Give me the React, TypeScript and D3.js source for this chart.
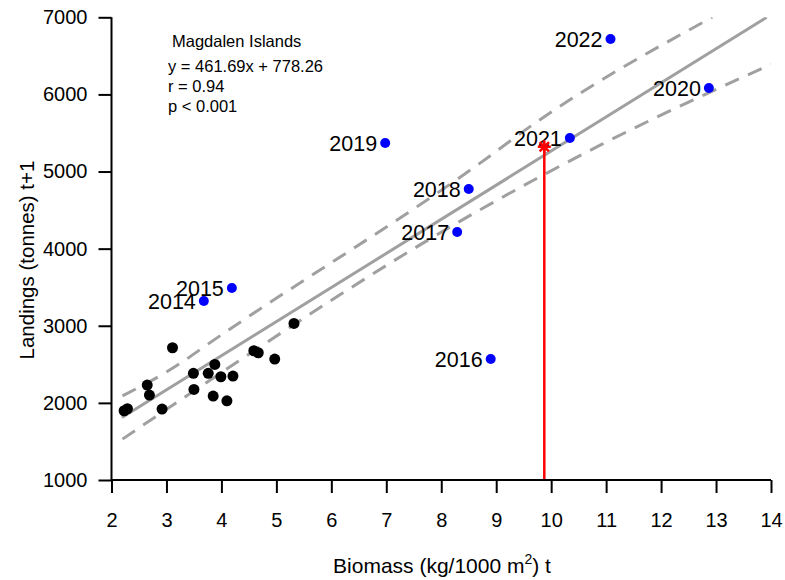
import React, { useEffect, useRef } from "react";
import * as d3 from "d3";

// black points (earlier years, unlabelled)
const histBiomass = [2.23, 2.29, 2.92, 2.69, 2.65, 3.11, 3.5, 3.49, 3.76, 3.88, 3.99, 4.21, 3.85, 4.1, 4.59, 4.67, 4.97, 5.32];
const histLandings = [1898, 1924, 1920, 2101, 2231, 2715, 2175, 2383, 2383, 2499, 2339, 2348, 2089, 2027, 2676, 2650, 2568, 3031];

// blue labelled points
const years = ["2014", "2015", "2016", "2017", "2018", "2019", "2020", "2021", "2022"];
const recentBiomass = [3.68, 4.19, 8.9, 8.29, 8.5, 6.98, 12.87, 10.34, 11.08];
const recentLandings = [3320, 3489, 2568, 4215, 4773, 5370, 6083, 5434, 6719];

// regression line and dashed bands
const fitX = [2.19, 13.92];
const fitY = [1810, 7000];
const upperX = [2.2, 3.25, 3.73, 8.7, 9.7, 12.93];
const upperY = [2090, 2512, 2750, 5106, 5625, 7000];
const lowerX = [2.2, 3.25, 8.7, 10.9, 14];
const lowerY = [1530, 2036, 4502, 5345, 6390];

// projection for next year
const projBiomass = 9.875;
const projLandings = 5322;

const xTicks = [2, 3, 4, 5, 6, 7, 8, 9, 10, 11, 12, 13, 14];
const yTicks = [1000, 2000, 3000, 4000, 5000, 6000, 7000];

const infoLines = ["y = 461.69x + 778.26", "r = 0.94", "p < 0.001"];

const App = () => {
  const ref = useRef<SVGSVGElement>(null);

  useEffect(() => {
    const svg = d3.select(ref.current);
    svg.selectAll("*").remove();
    const width = 785;
    const height = 580;
    const font = "Liberation Sans, Arial, sans-serif";

    const x = d3.scaleLinear().domain([2, 14]).range([111.5, 771]);
    const y = d3.scaleLinear().domain([1000, 7000]).range([480, 17.3]);

    svg.attr("width", width).attr("height", height).attr("font-family", font);

    svg
      .append("defs")
      .append("clipPath")
      .attr("id", "plot-clip")
      .append("rect")
      .attr("x", x(2))
      .attr("y", y(7000))
      .attr("width", x(14) - x(2))
      .attr("height", y(1000) - y(7000));

    const lines = svg.append("g").attr("clip-path", "url(#plot-clip)");
    const line = d3
      .line<[number, number]>()
      .x((d) => x(d[0]))
      .y((d) => y(d[1]))
      .curve(d3.curveMonotoneX);

    lines
      .append("path")
      .attr("d", line(fitX.map((v, i) => [v, fitY[i]])))
      .attr("fill", "none")
      .attr("stroke", "#a0a0a0")
      .attr("stroke-width", 3);

    [
      [upperX, upperY],
      [lowerX, lowerY],
    ].forEach(([xs, ys]) => {
      lines
        .append("path")
        .attr("d", line(xs.map((v, i) => [v, ys[i]])))
        .attr("fill", "none")
        .attr("stroke", "#a0a0a0")
        .attr("stroke-width", 3)
        .attr("stroke-dasharray", "15,10");
    });

    // black points
    svg
      .append("g")
      .selectAll("circle")
      .data(histBiomass)
      .join("circle")
      .attr("cx", (d) => x(d))
      .attr("cy", (d, i) => y(histLandings[i]))
      .attr("r", 5.5)
      .attr("fill", "black");

    // blue points + labels
    const recent = svg.append("g");
    recent
      .selectAll("circle")
      .data(recentBiomass)
      .join("circle")
      .attr("cx", (d) => x(d))
      .attr("cy", (d, i) => y(recentLandings[i]))
      .attr("r", 5)
      .attr("fill", "#0000ff");
    recent
      .selectAll("text")
      .data(years)
      .join("text")
      .attr("x", (d, i) => x(recentBiomass[i]) - 8)
      .attr("y", (d, i) => y(recentLandings[i]))
      .attr("dy", "0.36em")
      .attr("text-anchor", "end")
      .attr("font-size", 21.5)
      .text((d) => d);

    // projection
    svg
      .append("line")
      .attr("x1", x(projBiomass))
      .attr("x2", x(projBiomass))
      .attr("y1", y(1000))
      .attr("y2", y(projLandings))
      .attr("stroke", "#ff0000")
      .attr("stroke-width", 2.5);
    const s = 6.5;
    const px = x(projBiomass);
    const py = y(projLandings);
    svg
      .append("path")
      .attr(
        "d",
        `M${px - s},${py}H${px + s}M${px},${py - s}V${py + s}` +
          `M${px - s * 0.72},${py - s * 0.72}L${px + s * 0.72},${py + s * 0.72}` +
          `M${px - s * 0.72},${py + s * 0.72}L${px + s * 0.72},${py - s * 0.72}`
      )
      .attr("stroke", "#ff0000")
      .attr("stroke-width", 2.5);

    // axes
    svg
      .append("g")
      .attr("transform", `translate(0,${y(1000)})`)
      .call(d3.axisBottom(x).tickValues(xTicks).tickSize(13).tickPadding(20).tickFormat(d3.format("d")))
      .call((g) => g.select(".domain").attr("stroke-width", 2).attr("d", `M${x(2)},0H${x(14)}`))
      .call((g) => g.selectAll(".tick line").attr("stroke-width", 2))
      .call((g) => g.selectAll(".tick text").attr("font-size", 20).attr("font-family", font));

    svg
      .append("g")
      .attr("transform", `translate(${x(2)},0)`)
      .call(d3.axisLeft(y).tickValues(yTicks).tickSize(13).tickPadding(11).tickFormat(d3.format("d")))
      .call((g) => g.select(".domain").attr("stroke-width", 2).attr("d", `M0,${y(1000)}V${y(7000)}`))
      .call((g) => g.selectAll(".tick line").attr("stroke-width", 2))
      .call((g) => g.selectAll(".tick text").attr("font-size", 20).attr("font-family", font));

    // axis titles
    const xt = svg
      .append("text")
      .attr("x", 442)
      .attr("y", 573)
      .attr("text-anchor", "middle")
      .attr("font-size", 21);
    xt.append("tspan").text("Biomass (kg/1000 m");
    xt.append("tspan").attr("font-size", 14).attr("dy", -9).text("2");
    xt.append("tspan").attr("dy", 9).text(") t");

    svg
      .append("text")
      .attr("transform", `translate(34,260) rotate(-90)`)
      .attr("text-anchor", "middle")
      .attr("font-size", 20.5)
      .text("Landings (tonnes) t+1");

    // annotation
    svg
      .append("text")
      .attr("x", 172)
      .attr("y", 47)
      .attr("font-size", 16.5)
      .text("Magdalen Islands");
    svg
      .append("g")
      .selectAll("text")
      .data(infoLines)
      .join("text")
      .attr("x", 168)
      .attr("y", (d, i) => 71.5 + i * 20)
      .attr("font-size", 16.5)
      .text((d) => d);
  }, []);

  return <svg ref={ref} style={{ position: "absolute", left: 0, top: 0 }} />;
};

export default App;
